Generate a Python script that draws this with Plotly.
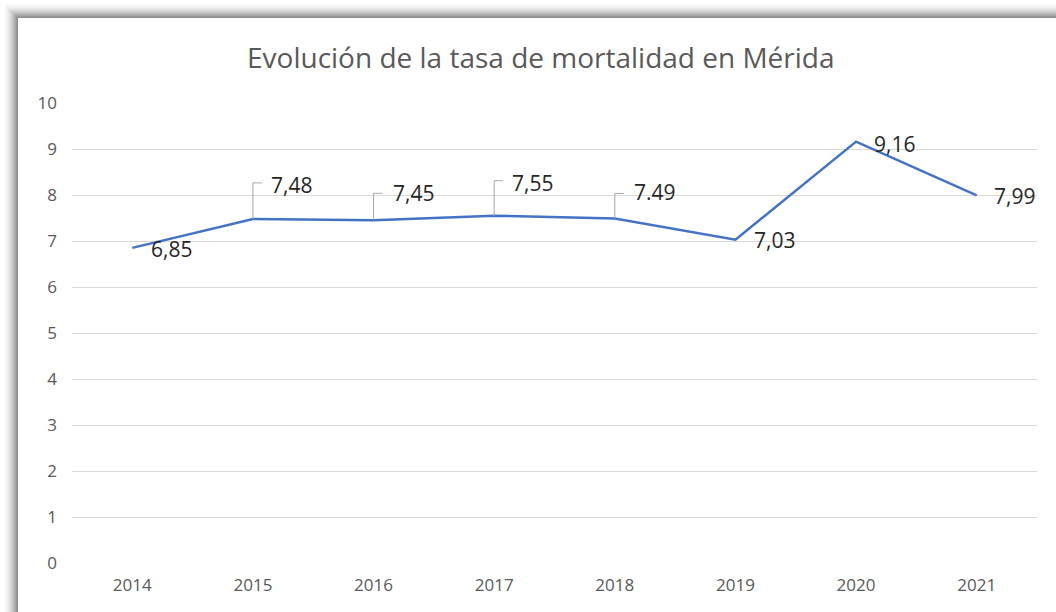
import plotly.graph_objects as go

years = ["2014", "2015", "2016", "2017", "2018", "2019", "2020", "2021"]
rates = [6.85, 7.48, 7.45, 7.55, 7.49, 7.03, 9.16, 7.99]
label_texts = ["6,85", "7,48", "7,45", "7,55", "7.49", "7,03", "9,16", "7,99"]
y_ticks = [0, 1, 2, 3, 4, 5, 6, 7, 8, 9, 10]
title_text = "Evolución de la tasa de mortalidad en Mérida"

# label placement (pixels): xshift, yshift, leader height (0 = no leader)
label_dx = [20, 19, 20, 19, 20, 20, 19, 18]
label_dy = [-1, 34, 27, 33, 26, 0, -2, -1]
leader_h = [0, 36, 27, 35, 25, 0, 0, 0]

W, H = 1056, 612
ML, MR, MT, MB = 72, 19, 103, 49
PW, PH = W - ML - MR, H - MT - MB

def px_x(p):
    return (p - ML) / PW

def px_y(p):
    return (H - MB - p) / PH

FONT = "Open Sans"
GREY = "#595959"
xs = list(range(len(years)))

fig = go.Figure()
fig.add_trace(go.Scatter(
    x=xs, y=rates, mode="lines",
    line=dict(color="#4472C4", width=2.5),
    hoverinfo="skip", showlegend=False,
))

shapes = []
# frame shadow (top and left gradients)
n = 15
for i in range(n):
    t = (i + 1) / n
    c = int(255 - (255 - 140) * t ** 1.8)
    col = f"rgb({c},{c},{c})"
    shapes.append(dict(type="rect", xref="paper", yref="paper",
                       x0=px_x(3 + i * 1.0), x1=px_x(4 + i * 1.0),
                       y0=px_y(H), y1=px_y(3 + i),
                       fillcolor=col, line=dict(width=0), layer="above"))
    shapes.append(dict(type="rect", xref="paper", yref="paper",
                       x0=px_x(3 + i), x1=px_x(W),
                       y0=px_y(4 + i), y1=px_y(3 + i),
                       fillcolor=col, line=dict(width=0), layer="above"))

annotations = []
for i, (xv, v, txt) in enumerate(zip(xs, rates, label_texts)):
    if leader_h[i] > 0:
        shapes.append(dict(
            type="path", xref="x", yref="y",
            xsizemode="pixel", ysizemode="pixel",
            xanchor=xv, yanchor=v,
            path=f"M0,0 L0,{leader_h[i]} L9,{leader_h[i]}",
            line=dict(color="#a6a6a6", width=1),
        ))
    annotations.append(dict(
        x=xv, y=v, xref="x", yref="y", text=txt, showarrow=False,
        xanchor="left", yanchor="middle",
        xshift=label_dx[i] - 3, yshift=label_dy[i],
        font=dict(family=FONT, size=21, color="#262626"),
    ))

annotations.append(dict(
    x=px_x(540.5), y=px_y(57), xref="paper", yref="paper",
    text=title_text, showarrow=False, xanchor="center", yanchor="middle",
    font=dict(family=FONT, size=28, color=GREY),
))

fig.update_layout(
    width=W, height=H,
    margin=dict(l=ML, r=MR, t=MT, b=MB, autoexpand=False),
    paper_bgcolor="white", plot_bgcolor="white",
    showlegend=False,
    xaxis=dict(
        range=[-0.5, len(years) - 0.5],
        tickvals=xs, ticktext=years,
        showgrid=False, zeroline=False, showline=False,
        ticks="", tickfont=dict(family=FONT, size=17, color=GREY),
        ticklabelstandoff=10,
    ),
    yaxis=dict(
        range=[0, 10], tickvals=y_ticks,
        showgrid=True, gridcolor="#d9d9d9", gridwidth=1,
        zeroline=False, showline=False, ticks="",
        tickfont=dict(family=FONT, size=17, color=GREY),
        ticklabelstandoff=14,
    ),
    shapes=shapes,
    annotations=annotations,
)

fig.write_html(
    "out.html",
    config={"displayModeBar": False},
    post_script="document.body.style.margin='0';document.body.style.overflow='hidden';",
)
